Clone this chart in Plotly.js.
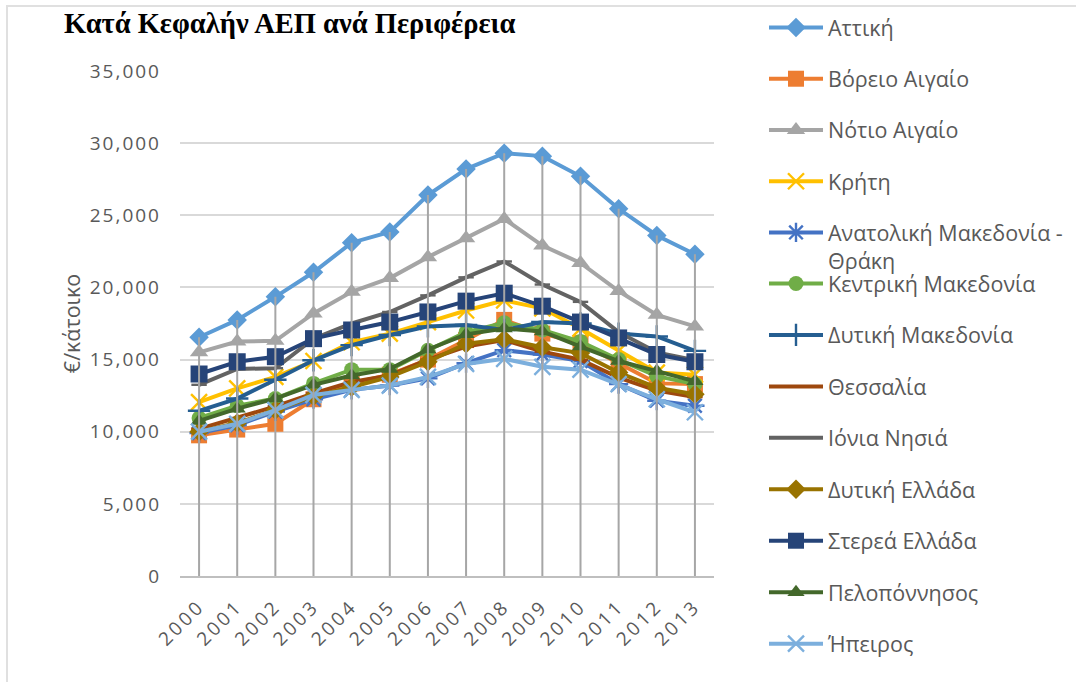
<!DOCTYPE html>
<html>
<head>
<meta charset="utf-8">
<script src="https://cdn.plot.ly/plotly-3.0.1.min.js"></script>
<style>
html,body{margin:0;padding:0;background:#fff;overflow:hidden;}
#wrap{position:relative;width:1076px;height:682px;}
#chart{width:1076px;height:682px;}
#frame{position:absolute;left:6px;top:5px;width:1090px;height:700px;border:2px solid #e0e0e0;pointer-events:none;box-sizing:border-box;}
#chart .ytick text{letter-spacing:2px;}
#chart .xtick text{letter-spacing:3px;}
</style>
</head>
<body>
<div id="wrap"><div id="chart"></div><div id="frame"></div></div>
<script>
// ---- data ----
const years = ['2000','2001','2002','2003','2004','2005','2006','2007','2008','2009','2010','2011','2012','2013'];
const regionNames = ['Αττική','Βόρειο Αιγαίο','Νότιο Αιγαίο','Κρήτη','Ανατολική Μακεδονία -<br>Θράκη','Κεντρική Μακεδονία','Δυτική Μακεδονία','Θεσσαλία','Ιόνια Νησιά','Δυτική Ελλάδα','Στερεά Ελλάδα','Πελοπόννησος','Ήπειρος'];
const attiki        = [16550,17750,19350,21050,23100,23850,26400,28200,29300,29100,27700,25450,23600,22300];
const voreioAigaio  = [9750,10150,10550,12250,13350,13950,15000,16350,17750,16800,16150,14750,13350,13300];
const notioAigaio   = [15500,16250,16300,18200,19700,20650,22100,23400,24750,22900,21700,19750,18100,17300];
const kriti         = [12050,13000,13800,14900,16200,16800,17600,18400,19100,18550,17150,15600,14100,13950];
const anMakThraki   = [9900,10450,11400,12250,12900,13200,13700,14750,15650,15350,14900,13300,12150,11800];
const kentrMak      = [10950,11800,12300,13350,14300,14300,15650,16900,17550,17050,16250,15000,13850,13300];
const dytMak        = [11450,12300,13600,14950,16000,16700,17300,17400,17050,17600,17500,16800,16600,15600];
const thessalia     = [10200,10950,11750,12650,13450,13900,15000,15900,16350,15550,15000,13750,12850,12400];
const ionia         = [13250,14350,14400,16450,17500,18300,19450,20700,21800,20200,19000,16900,15500,14950];
const dytEllada     = [10000,10600,11500,12450,13100,13800,14850,16100,16400,15850,15450,14100,13050,12600];
const sterea        = [14000,14850,15200,16450,17050,17600,18300,19050,19600,18700,17600,16500,15350,14850];
const peloponnisos  = [10750,11600,12300,13250,13900,14350,15700,16750,17150,16950,15900,14900,14200,13500];
const ipeiros       = [10000,10550,11500,12550,12900,13200,13800,14700,15050,14500,14300,13300,12250,11350];

const seriesValues = [attiki,voreioAigaio,notioAigaio,kriti,anMakThraki,kentrMak,dytMak,thessalia,ionia,dytEllada,sterea,peloponnisos,ipeiros];

// ---- styles ----
const colors = ['#5B9BD5','#ED7D31','#A5A5A5','#FFC000','#4472C4','#70AD47','#255E91','#9E480E','#636363','#997300','#264478','#43682B','#7CAFDD'];
const symbols = ['diamond','square','triangle-up','x-thin-open','asterisk-open','circle','cross-thin-open','line-ew-open','line-ew-open','diamond','square','triangle-up','x-thin-open'];
const sizes = [15,16,16,16,16,15,16,11,11,15,17,15,16];

const traces = seriesValues.map((vals, i) => {
  const open = symbols[i].endsWith('-open');
  return {
    type: 'scatter', mode: 'lines+markers',
    x: years, y: vals, name: regionNames[i],
    legend: i < 5 ? 'legend' : 'legend2',
    legendgroup: 'g' + i,
    line: {color: colors[i], width: 4},
    marker: {symbol: symbols[i], size: sizes[i], color: colors[i],
             line: {color: colors[i], width: open ? 2.4 : 0}},
    hoverinfo: 'x+y+name'
  };
});

// drop lines (from highest value of each year to the axis)
const dropX = [], dropY = [];
years.forEach((yr, j) => {
  const m = Math.max(...seriesValues.map(s => s[j]));
  dropX.push(yr, yr, null); dropY.push(0, m, null);
});
traces.push({type:'scatter', mode:'lines', x: dropX, y: dropY, showlegend:false,
  hoverinfo:'skip', line:{color:'#A6A6A6', width:2}});

const fam = '"Open Sans", "Noto Sans", sans-serif';
const legendFont = {family:fam, size:21.5, color:'#595959'};

const layout = {
  width:1076, height:682,
  paper_bgcolor:'#fff', plot_bgcolor:'#fff',
  margin:{l:180, r:362, t:71, b:106},
  title:{text:'<b>Κατά Κεφαλήν ΑΕΠ ανά Περιφέρεια</b>', xref:'container', yref:'container',
    x:64/1076, xanchor:'left', y:1-13/682, yanchor:'top',
    font:{family:'"Liberation Serif", "Times New Roman", serif', size:28.5, color:'#000'}},
  xaxis:{type:'category', range:[-0.5,13.5], showgrid:false, zeroline:false,
    showline:true, linecolor:'#BFBFBF', linewidth:1.5, ticks:'',
    tickangle:-45, tickfont:{family:fam, size:19, color:'#595959'}, ticklabelstandoff:10, fixedrange:true},
  yaxis:{range:[0,35000], dtick:5000, tickformat:',d', showgrid:true,
    gridcolor:'#D9D9D9', gridwidth:1.5, zeroline:false, showline:false,
    tickfont:{family:fam, size:19, color:'#595959'}, ticklabelstandoff:18,
    title:{text:'€/κάτοικο', font:{family:fam, size:21.5, color:'#595959'}, standoff:15},
    fixedrange:true},
  legend:{xref:'container', yref:'container', x:764/1076, xanchor:'left', y:1-7/682, yanchor:'top',
    font:legendFont, tracegroupgap:20.3, valign:'top', itemwidth:54, bgcolor:'rgba(0,0,0,0)', itemclick:false, maxheight:682},
  legend2:{xref:'container', yref:'container', x:764/1076, xanchor:'left', y:1-263/682, yanchor:'top',
    font:legendFont, tracegroupgap:20.5, valign:'top', itemwidth:54, bgcolor:'rgba(0,0,0,0)', itemclick:false, maxheight:682},
  showlegend:true
};

Plotly.newPlot('chart', traces, layout, {displayModeBar:false});
</script>
</body>
</html>
